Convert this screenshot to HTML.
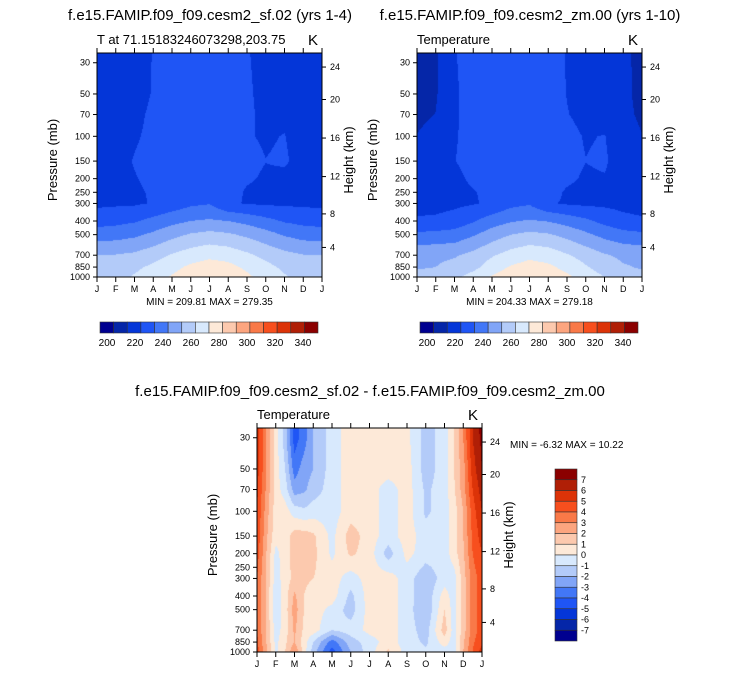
<!DOCTYPE html>
<html><head><meta charset="utf-8">
<style>
html,body{margin:0;padding:0;background:#fff;}
#root{position:relative;width:733px;height:676px;overflow:hidden;font-family:"Liberation Sans",sans-serif;}
canvas{position:absolute;}
svg{position:absolute;left:0;top:0;}
</style></head>
<body>
<div id="root">
<canvas id="c1" width="225" height="224" style="left:97px;top:53px"></canvas>
<canvas id="c2" width="225" height="224" style="left:417px;top:53px"></canvas>
<canvas id="c3" width="225" height="224" style="left:257px;top:428px"></canvas>
<svg id="s" width="733" height="676"></svg>
</div>
<script>
// ---------- DATA ----------
const monthLabels=["J","F","M","A","M","J","J","A","S","O","N","D","J"];
const presTicks=[30,50,70,100,150,200,250,300,400,500,700,850,1000];
const heightTicks=[4,8,12,16,20,24];
const tempBarLabels=[200,220,240,260,280,300,320,340];
const tempLevels=[200,210,220,230,240,250,260,270,280,290,300,310,320,330,340];
const diffLevels=[-7,-6,-5,-4,-3,-2,-1,0,1,2,3,4,5,6,7];
const diffBarLabels=[7,6,5,4,3,2,1,0,-1,-2,-3,-4,-5,-6,-7];
const topPres=[1000,850,700,500,400,300,250,200,150,100,70,50,25];
const topMonths=[0,1,2,3,4,5,6,7,8,9,10,11,12];
const sf02=[
[256,257,261,265,271,276,279,277,272,266,261,257,256],
[253,254,258,262,267,272,274.5,273,268,263,258,254,253],
[250,250.5,252,256,261,265,267.7,266,262,257,253,250.5,250],
[235,236,238,242,247,251,253,251.5,248,244,239,236,235],
[226,227,229,233,237,240,241.4,240,237,233,229,227,226],
[218,218.5,218.8,220.5,224,228,229.5,221,219.5,218.5,218.5,218,218],
[217,217.5,218.6,221,224,226,227,223.5,219,218,218.5,217.5,217],
[216,217,219.5,222,224,225,226,224,221,219,218,217,216],
[215,217,220.5,223,224.5,225,225.5,225,222,220.1,221,217,215],
[214,215.5,219,222,224,225,225,224.5,220.6,219.2,220.3,216,214],
[213.5,214.5,218,221.5,223.5,224.5,224.5,224,221,218.7,218,215,213.5],
[213,214,217,220.5,223,224,224,223.5,221,218,216,214,213],
[212.5,213.5,216.5,220.3,223,224,224,223.5,220.5,217.5,215,213.5,212.5]
];
const zm00=[
[253,254,258,264,271,276,279,277,272,266,260,255,253],
[249,250,253,257,265,271,274,272,267,261,255,251,249],
[247.5,248,249,253,259,264,267.5,265.5,261,256,251,248,247.5],
[232,233,234,239,245,250,252.5,251,247,242,237,233.5,232],
[221.5,222,224,229,235,239,241,239.5,236,232,227,223,221.5],
[216,216.5,218,219.3,221.5,227,229,221,219,218,218,217,216],
[215,216,217.5,219.5,222,225.5,227,223,219,217.5,217.5,216.5,215],
[214,215.5,218,221.5,224,225,226,224,221.5,219,219.5,217,214],
[213,215,219.8,222.5,224,225,225.5,225,222,220.1,221,216,213],
[210.3,213,219.5,222,224,225,225,224.5,222,219.5,220.3,215,210.3],
[208,210.2,219.5,221.5,223.5,224,224.5,223.5,220.3,218,216,213,208],
[206.5,209,219.5,221.5,223,224,224,223.5,219.8,217,215,213,206.5],
[206,208.5,219.8,221.5,223,224,224,223.5,219.5,217,214,213,206]
];
const diffPres=[1000,850,700,500,400,300,200,150,100,70,50,30,25];
const diffMonths=[0,0.5,1,1.5,2,2.5,3,4,5,6,7,8,9,10,10.5,11,11.5,12];
const diffVals=[
[4.5,2.2,-0.3,1,3,0.5,-1.5,-4.5,-2,-0.5,1.2,-0.5,-0.8,-0.5,-0.5,2,4,5.5],
[4.2,2,-0.3,0.8,2,0.5,-1,-3.5,-1.5,-0.5,0.5,-0.5,-1.2,0.5,-0.5,1.8,3.8,4.8],
[4,1.8,-0.5,0.5,2.2,0.8,0.5,-1,-0.5,0.3,0.5,-0.5,-1.5,1.5,-0.5,1.5,3.5,4.5],
[4,1.8,-0.7,0.5,2.5,1,0.5,-0.3,-1.5,0.5,0.5,-0.5,-2,1,-0.5,1.5,3.5,4.5],
[4,1.8,-0.7,0.5,2.2,1,0.5,0.5,-1.3,0.5,0.5,-0.5,-1.8,0.5,-0.5,1.5,3.5,4.5],
[4,1.8,-0.5,0.5,1.3,1.2,1,0.5,-0.5,0.5,0.5,-0.5,-1.8,-0.5,-0.5,1.5,3.5,4.5],
[4.5,2,-0.3,0.5,1.5,1.5,1.3,-0.2,1.2,0.5,-1.5,0.3,-0.5,-0.5,0.5,1.8,4,5],
[4.8,2.2,0.3,0.5,1.5,1.5,1.2,-0.3,1.5,0.5,-0.5,0.5,-0.5,-0.5,0.5,2,4.2,5.5],
[5,2.5,0.5,0.5,-0.5,-0.8,-0.5,-0.5,0.5,0.5,-0.5,0.5,-1.2,-0.5,0.5,2,4.5,6],
[5.2,2.8,0.5,-0.5,-2.5,-2.2,-1.5,-0.5,0.5,0.5,-0.5,0.5,-1.2,-0.5,0.8,2.5,5,6.5],
[5.5,3,0.5,-1,-3.5,-2.5,-2,-0.5,0.5,0.5,0.5,0.5,-1.5,-0.5,1,2.5,5.5,7],
[5.5,3,0.5,-1.5,-4.5,-3.5,-2,-0.5,0.5,0.5,0.5,0.3,-1.5,-0.5,1,3,6,7.3],
[5.5,3,0.5,-1.5,-4.5,-3.5,-2,-0.5,0.5,0.5,0.5,0.3,-1.5,-0.5,1,3,6,7.5]
];
const palette=["#000090","#0526a8","#0436d8","#1f55f5","#4277f7","#81a5f7","#b3cbf9","#d8e9fd","#fde9d8","#fcc9ae","#fca57f","#f97948","#f74f1e","#dc3308","#b01f06","#8b0000"];

// ---------- SCALES ----------
const PW=225, PH=224, PXL=61.1;
function yOfP(p,y0){return y0+PH-(Math.log(1000)-Math.log(p))*PXL;}
function xOfM(m,x0){return x0+m*PW/12;}
function pOfZ(z){
  if(z<=11) return 1013.25*Math.pow(1-2.2558e-2*z,5.2559);
  if(z<=20) return 226.32*Math.exp(-(z-11)/6.3416);
  return 54.75*Math.exp(-(z-20)/7.53);
}
function hex(c){return [parseInt(c.substr(1,2),16),parseInt(c.substr(3,2),16),parseInt(c.substr(5,2),16)];}
const rgb=palette.map(hex);

function sample(grid,pres,months,m,lnp){
  const lp=pres.map(Math.log);
  let k=0;
  if(lnp>=lp[0]){k=0;} else {
    k=lp.length-2;
    for(let i=0;i<lp.length-1;i++){ if(lnp<=lp[i]&&lnp>=lp[i+1]){k=i;break;} }
  }
  let ty=(lp[k]-lnp)/(lp[k]-lp[k+1]); ty=Math.max(0,Math.min(1,ty));
  let j=months.length-2;
  for(let i=0;i<months.length-1;i++){ if(m>=months[i]&&m<=months[i+1]){j=i;break;} }
  let tx=(m-months[j])/(months[j+1]-months[j]);
  const a=grid[k][j]*(1-tx)+grid[k][j+1]*tx;
  const b=grid[k+1][j]*(1-tx)+grid[k+1][j+1]*tx;
  return a*(1-ty)+b*ty;
}
function drawField(id,grid,pres,months,levels){
  const cv=document.getElementById(id),ctx=cv.getContext('2d');
  const img=ctx.createImageData(PW,PH);
  for(let y=0;y<PH;y++){
    const lnp=Math.log(1000)-(PH-(y+0.5))/PXL;
    for(let x=0;x<PW;x++){
      const m=(x+0.5)/PW*12;
      const v=sample(grid,pres,months,m,lnp);
      let idx=0; for(const L of levels){ if(v>=L) idx++; }
      const c=rgb[idx],o=(y*PW+x)*4;
      img.data[o]=c[0];img.data[o+1]=c[1];img.data[o+2]=c[2];img.data[o+3]=255;
    }
  }
  ctx.putImageData(img,0,0);
}
drawField('c1',sf02,topPres,topMonths,tempLevels);
drawField('c2',zm00,topPres,topMonths,tempLevels);
drawField('c3',diffVals,diffPres,diffMonths,diffLevels);

// ---------- SVG ----------
const NS="http://www.w3.org/2000/svg";
const svg=document.getElementById('s');
function mk(tag,attrs,parent){const e=document.createElementNS(NS,tag);for(const k in attrs)e.setAttribute(k,attrs[k]);(parent||svg).appendChild(e);return e;}
function txt(x,y,s,size,anchor,parent){const t=mk('text',{x:x,y:y,'font-size':size,'text-anchor':anchor||'start','font-family':'Liberation Sans, sans-serif',fill:'#000'},parent);t.textContent=s;return t;}

function panel(x0,y0,sub,minmax,prefix){
  const g=mk('g',{});
  
  
  const fr=mk('rect',{x:x0,y:y0,width:PW,height:PH,fill:'none',stroke:'#000','stroke-width':1},g);
  
  
  for(let i=0;i<monthLabels.length;i++){
    const x=xOfM(i,x0);
    mk('line',{x1:x,y1:y0+PH,x2:x,y2:y0+PH+5,stroke:'#000'},g);
    mk('line',{x1:x,y1:y0,x2:x,y2:y0-5,stroke:'#000'},g);
    const t=txt(x,y0+PH+15,monthLabels[i],9,'middle',g);
    
    
  }
  for(const p of presTicks){
    const y=yOfP(p,y0);
    mk('line',{x1:x0-4,y1:y,x2:x0,y2:y,stroke:'#000'},g);
    const t=txt(x0-7,y+3,String(p),9,'end',g);
    
    
  }
  for(const z of heightTicks){
    const y=yOfP(pOfZ(z),y0);
    mk('line',{x1:x0+PW,y1:y,x2:x0+PW+4,y2:y,stroke:'#000'},g);
    const t=txt(x0+PW+8,y+3,String(z),9,'start',g);
    
    
  }
  const st=txt(x0,y0-9,sub,13,'start',g);
  
  
  const k=txt(x0+PW-4,y0-8,'K',15,'end',g);
  
  
  const yl=txt(0,0,'Pressure (mb)',13,'middle',g);
  yl.setAttribute('transform','translate('+(x0-40)+','+(y0+PH/2-5)+') rotate(-90)');
  
  
  const hl=txt(0,0,'Height (km)',13,'middle',g);
  hl.setAttribute('transform','translate('+(x0+PW+31)+','+(y0+PH/2-5)+') rotate(-90)');
  
  
  if(minmax){
    const mm=txt(x0+PW/2,y0+PH+28,minmax,10,'middle',g);
    
    
  }
}
function hbar(x0,y0,prefix){
  const g=mk('g',{});
  
  
  const w=218/16;
  for(let i=0;i<16;i++){
    const r=mk('rect',{x:x0+i*w,y:y0,width:w,height:11,fill:palette[i],stroke:'#333','stroke-width':0.6},g);
    
    
  }
  for(let i=0;i<tempBarLabels.length;i++){
    const t=txt(x0+7+i*28,y0+24,String(tempBarLabels[i]),10,'middle',g);
    
    
  }
}
function vbar(x0,y0){
  const g=mk('g',{});
  
  
  const h=172/16;
  for(let i=0;i<16;i++){
    const r=mk('rect',{x:x0,y:y0+i*h,width:22,height:h,fill:palette[15-i],stroke:'#333','stroke-width':0.6},g);
    
    
  }
  for(let i=0;i<diffBarLabels.length;i++){
    const t=txt(x0+26,y0+(i+1)*h+3,String(diffBarLabels[i]),9,'start',g);
    
    
  }
}

const t1=txt(210,20,'f.e15.FAMIP.f09_f09.cesm2_sf.02 (yrs 1-4)',15,'middle');


const t2=txt(530,20,'f.e15.FAMIP.f09_f09.cesm2_zm.00 (yrs 1-10)',15,'middle');


const t3=txt(370,396,'f.e15.FAMIP.f09_f09.cesm2_sf.02 - f.e15.FAMIP.f09_f09.cesm2_zm.00',15,'middle');



panel(97,53,'T at 71.15183246073298,203.75','MIN = 209.81 MAX = 279.35','sf02');
panel(417,53,'Temperature','MIN = 204.33 MAX = 279.18','zm00');
panel(257,428,'Temperature',null,'difference');
hbar(100,322,'sf02');
hbar(420,322,'zm00');
vbar(555,469);
const dm=txt(510,448,'MIN =  -6.32 MAX =  10.22',10,'start');


</script>
</body></html>
